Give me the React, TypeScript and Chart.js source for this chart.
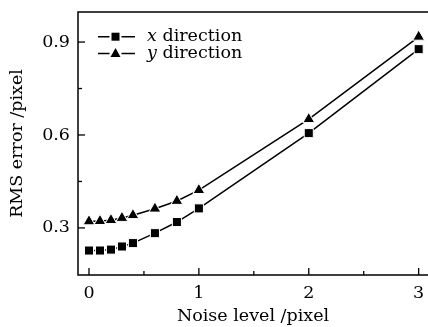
import React, { useEffect, useRef } from "react";
import { Chart, registerables } from "chart.js";

Chart.register(...registerables);

const noiseLevels = [0, 0.1, 0.2, 0.3, 0.4, 0.6, 0.8, 1, 2, 3];
const xDirection = [0.227, 0.227, 0.230, 0.240, 0.251, 0.283, 0.319, 0.363, 0.606, 0.877];
const yDirection = [0.321, 0.322, 0.325, 0.332, 0.341, 0.362, 0.387, 0.422, 0.651, 0.917];
const seriesNames = ["x", "y"];
const xTicks = [0, 0.5, 1, 1.5, 2, 2.5, 3];
const yTicks = [0.3, 0.45, 0.6, 0.75, 0.9];
const xLabelTicks = [0, 1, 2, 3];
const yLabelTicks = [0.3, 0.6, 0.9];

const FONT = "'DejaVu Serif', serif";

const framePlugin = {
  id: "frame",
  afterDraw(chart: any) {
    const { ctx, chartArea } = chart;
    const xs = chart.scales.x;
    const ys = chart.scales.y;
    ctx.save();
    ctx.strokeStyle = "#000";
    ctx.lineWidth = 1.5;
    ctx.beginPath();
    ctx.moveTo(chartArea.right + 2, chartArea.top);
    ctx.lineTo(chartArea.left, chartArea.top);
    ctx.lineTo(chartArea.left, chartArea.bottom);
    ctx.lineTo(chartArea.right + 2, chartArea.bottom);
    ctx.stroke();
    ctx.lineWidth = 1.3;
    xTicks.forEach((v) => {
      const px = xs.getPixelForValue(v);
      const len = xLabelTicks.includes(v) ? 7 : 4;
      ctx.beginPath();
      ctx.moveTo(px, chartArea.bottom);
      ctx.lineTo(px, chartArea.bottom - len);
      ctx.stroke();
    });
    yTicks.forEach((v) => {
      const py = ys.getPixelForValue(v);
      const len = yLabelTicks.some((t) => Math.abs(t - v) < 1e-6) ? 7 : 4;
      ctx.beginPath();
      ctx.moveTo(chartArea.left, py);
      ctx.lineTo(chartArea.left + len, py);
      ctx.stroke();
    });

    // legend
    const rows = [
      { y: 36.7, style: "rect" },
      { y: 53.5, style: "triangle" },
    ];
    rows.forEach((r, i) => {
      ctx.lineWidth = 1.5;
      ctx.beginPath();
      ctx.moveTo(98, r.y);
      ctx.lineTo(109.5, r.y);
      ctx.moveTo(121.5, r.y);
      ctx.lineTo(135, r.y);
      ctx.stroke();
      ctx.fillStyle = "#000";
      ctx.beginPath();
      if (r.style === "rect") {
        ctx.rect(111.5, r.y - 4, 8, 8);
      } else {
        ctx.moveTo(115.5, r.y - 5.5);
        ctx.lineTo(120.5, r.y + 3.5);
        ctx.lineTo(110.5, r.y + 3.5);
        ctx.closePath();
      }
      ctx.fill();
      ctx.textBaseline = "middle";
      ctx.textAlign = "left";
      ctx.font = `italic 17.5px ${FONT}`;
      ctx.fillText(seriesNames[i], 147, r.y);
      const w = ctx.measureText(seriesNames[i]).width;
      ctx.font = `17.5px ${FONT}`;
      ctx.fillText(" direction", 147 + w, r.y);
    });
    ctx.restore();
  },
};

export default function App() {
  const ref = useRef<HTMLCanvasElement | null>(null);
  useEffect(() => {
    if (!ref.current) return;
    const chart = new Chart(ref.current, {
      type: "line",
      data: {
        datasets: [
          {
            label: "x direction",
            data: noiseLevels.map((n, i) => ({ x: n, y: xDirection[i] })),
            borderColor: "#000",
            borderWidth: 1.5,
            pointStyle: "rect",
            pointRadius: 6.4,
            pointBackgroundColor: "#000",
            pointBorderColor: "#fff",
            pointBorderWidth: 1,
            tension: 0,
          },
          {
            label: "y direction",
            data: noiseLevels.map((n, i) => ({ x: n, y: yDirection[i] })),
            borderColor: "#000",
            borderWidth: 1.5,
            pointStyle: "triangle",
            pointRadius: 6.8,
            pointBackgroundColor: "#000",
            pointBorderColor: "#fff",
            pointBorderWidth: 1,
            tension: 0,
          },
        ],
      },
      options: {
        animation: false,
        responsive: false,
        maintainAspectRatio: false,
        layout: { autoPadding: false, padding: { top: 12, right: 0, left: 0, bottom: 0 } },
        plugins: { legend: { display: false }, tooltip: { enabled: false } },
        scales: {
          x: {
            type: "linear",
            min: -0.1,
            max: 3.085,
            grid: { display: false, drawTicks: false },
            border: { display: false },
            afterBuildTicks: (s: any) => {
              s.ticks = xTicks.map((v) => ({ value: v }));
            },
            afterFit: (s: any) => {
              s.height = 52;
              s.paddingLeft = 0;
              s.paddingRight = 0;
            },
            ticks: {
              color: "#000",
              padding: 8,
              maxRotation: 0,
              autoSkip: false,
              font: { family: FONT, size: 17.5 },
              callback: (v: any) => (xLabelTicks.includes(Number(v)) ? String(v) : ""),
            },
            title: {
              display: true,
              text: "Noise level /pixel",
              color: "#000",
              font: { family: FONT, size: 17.5 },
              padding: { top: 0, bottom: 0 },
            },
          },
          y: {
            type: "linear",
            min: 0.148,
            max: 0.997,
            grid: { display: false, drawTicks: false },
            border: { display: false },
            afterBuildTicks: (s: any) => {
              s.ticks = yTicks.map((v) => ({ value: v }));
            },
            afterFit: (s: any) => {
              s.width = 78;
              s.paddingTop = 0;
              s.paddingBottom = 0;
            },
            ticks: {
              color: "#000",
              padding: 8,
              autoSkip: false,
              font: { family: FONT, size: 17.5 },
              callback: (v: any) =>
                yLabelTicks.some((t) => Math.abs(t - Number(v)) < 1e-6) ? Number(v).toFixed(1) : "",
            },
            title: {
              display: true,
              text: "RMS error /pixel",
              color: "#000",
              font: { family: FONT, size: 17.5 },
              padding: { top: 7, bottom: 0 },
            },
          },
        },
      },
      plugins: [framePlugin],
    });
    return () => chart.destroy();
  }, []);
  return (
    <div style={{ position: "fixed", left: 0, top: 0, width: 428, height: 327, background: "#fff" }}>
      <canvas ref={ref} width={428} height={327} style={{ width: 428, height: 327 }} />
    </div>
  );
}
